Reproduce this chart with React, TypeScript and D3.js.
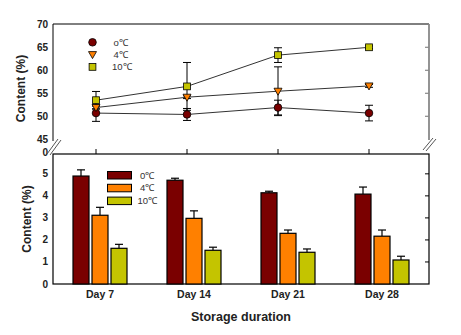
import React from "react";
import * as d3 from "d3";

const days = ["Day 7", "Day 14", "Day 21", "Day 28"];
const dayNums = [7, 14, 21, 28];
const series = ["0℃", "4℃", "10℃"];
const lineLegend = ["o℃", "4℃", "10℃"];

// upper panel (line chart)
const line0 = [50.7, 50.4, 51.9, 50.7];
const line0Err = [1.8, 1.3, 1.6, 1.7];
const line4 = [51.9, 54.15, 55.45, 56.6];
const line4Err = [0.3, 0.3, 5.3, 0.3];
const line10 = [53.5, 56.5, 63.3, 65.0];
const line10Err = [1.9, 5.2, 1.6, 0.3];
const upperTicks = [45, 50, 55, 60, 65, 70];

// lower panel (bar chart)
const bar0 = [4.9, 4.71, 4.14, 4.08];
const bar0Err = [0.28, 0.09, 0.07, 0.32];
const bar4 = [3.12, 2.98, 2.3, 2.17];
const bar4Err = [0.36, 0.34, 0.15, 0.28];
const bar10 = [1.62, 1.53, 1.44, 1.09];
const bar10Err = [0.18, 0.14, 0.15, 0.17];
const lowerTicks = [0, 1, 2, 3, 4, 5];

const colors = ["#7a0000", "#ff8000", "#c4c400"];
const FONT = "'Liberation Sans', Arial, sans-serif";

export default function App() {
  const L = 53, R = 429, T = 24, MID = 154, B = 284;
  const yU = d3.scaleLinear().domain([45, 70]).range([139.3, 24.3]);
  const xU = d3.scaleLinear().domain([7, 28]).range([96, 369]);
  const yL = d3.scaleLinear().domain([0, 5.9]).range([B, MID]);
  const x0 = d3.scaleBand<string>().domain(days).range([L, R]).padding(0);
  const x1 = d3.scaleBand<string>().domain(series).range([-27, 27]).paddingInner(3 / 19).paddingOuter(0);

  const lineSeries = [
    { v: line0, e: line0Err, shape: "circle" },
    { v: line4, e: line4Err, shape: "tri" },
    { v: line10, e: line10Err, shape: "square" },
  ];
  const barSeries = [
    { v: bar0, e: bar0Err },
    { v: bar4, e: bar4Err },
    { v: bar10, e: bar10Err },
  ];
  const lineGen = d3.line<number>().x((_, i) => xU(dayNums[i])).y((d) => yU(d));

  const marker = (shape: string, cx: number, cy: number, fill: string, key: string) => {
    if (shape === "circle")
      return <circle key={key} cx={cx} cy={cy} r={3.8} fill={fill} stroke="#000" strokeWidth={0.8} />;
    if (shape === "tri")
      return (
        <path key={key} d={`M${cx - 4},${cy - 3} L${cx + 4},${cy - 3} L${cx},${cy + 4} Z`} fill={fill} stroke="#000" strokeWidth={0.8} />
      );
    return <rect key={key} x={cx - 3.4} y={cy - 3.4} width={6.8} height={6.8} fill={fill} stroke="#000" strokeWidth={0.8} />;
  };

  return (
    <svg width={461} height={335} style={{ position: "absolute", left: 0, top: 0, background: "#fff" }} fontFamily={FONT}>
      <rect width={461} height={335} fill="#fff" />
      {/* ===== Upper panel ===== */}
      <line x1={L} x2={R} y1={T} y2={T} stroke="#000" strokeWidth={1} />
      <line x1={L} x2={L} y1={T} y2={141} stroke="#000" strokeWidth={1} />
      <line x1={R} x2={R} y1={T} y2={140} stroke="#888" strokeWidth={1.8} />
      {upperTicks.slice(1, 5).map((t) => (
        <line key={"rt" + t} x1={R - 4} x2={R} y1={yU(t)} y2={yU(t)} stroke="#888" strokeWidth={1.2} />
      ))}
      {upperTicks.map((t) => (
        <text key={"ut" + t} x={48} y={yU(t)} dy="0.35em" textAnchor="end" fontSize={10} fontWeight="bold" fill="#222">
          {t}
        </text>
      ))}
      <text x={48} y={MID} dy="0.2em" textAnchor="end" fontSize={10} fontWeight="bold" fill="#222">0</text>
      {/* break marks */}
      <line x1={47} y1={154} x2={58} y2={139} stroke="#555" strokeWidth={1} />
      <line x1={50} y1={155} x2={61} y2={140} stroke="#555" strokeWidth={1} />
      <line x1={423} y1={150} x2={433} y2={138} stroke="#555" strokeWidth={1} />
      <line x1={426} y1={151} x2={436} y2={139} stroke="#555" strokeWidth={1} />
      {/* upper x ticks */}
      {dayNums.map((d) => (
        <line key={"xt" + d} x1={xU(d)} x2={xU(d)} y1={MID - 5} y2={MID} stroke="#000" strokeWidth={1} />
      ))}
      {/* lines */}
      {lineSeries.map((s, si) => (
        <path key={"ln" + si} d={lineGen(s.v) || ""} fill="none" stroke="#333" strokeWidth={1} />
      ))}
      {/* error bars */}
      {lineSeries.map((s, si) =>
        s.v.map((v, i) => {
          const cx = xU(dayNums[i]);
          const y1 = yU(v - s.e[i]);
          const y2 = yU(v + s.e[i]);
          return (
            <g key={`eb${si}-${i}`} stroke="#000" strokeWidth={1}>
              <line x1={cx} x2={cx} y1={y1} y2={y2} />
              <line x1={cx - 4} x2={cx + 4} y1={y1} y2={y1} />
              <line x1={cx - 4} x2={cx + 4} y1={y2} y2={y2} />
            </g>
          );
        })
      )}
      {lineSeries.map((s, si) => s.v.map((v, i) => marker(s.shape, xU(dayNums[i]), yU(v), colors[si], `m${si}-${i}`)))}
      {/* upper legend */}
      {lineSeries.map((s, si) => (
        <g key={"ul" + si}>
          {marker(s.shape, 92.5, 42.3 + si * 12.3, colors[si], "lm" + si)}
          <text x={si === 2 ? 112 : 113.5} y={42.3 + si * 12.3} dy="0.35em" fontSize={9.5} fill="#333">
            {lineLegend[si]}
          </text>
        </g>
      ))}
      <text transform={`translate(25,${(T + 153) / 2}) rotate(-90)`} textAnchor="middle" fontSize={12} fontWeight="bold" fill="#222">
        Content (%)
      </text>

      {/* ===== Lower panel ===== */}
      <rect x={L} y={MID} width={R - L} height={B - MID} fill="none" stroke="#000" strokeWidth={1.2} />
      {lowerTicks.slice(1).map((t) => (
        <line key={"lrt" + t} x1={R - 4} x2={R} y1={yL(t)} y2={yL(t)} stroke="#000" strokeWidth={1} />
      ))}
      {lowerTicks.map((t) => (
        <text key={"lt" + t} x={48} y={yL(t)} dy="0.35em" textAnchor="end" fontSize={10} fontWeight="bold" fill="#222">
          {t}
        </text>
      ))}
      {barSeries.map((s, si) =>
        s.v.map((v, i) => {
          const cx = (x0(days[i]) as number) + x0.bandwidth() / 2;
          const bx = cx + (x1(series[si]) as number);
          const w = x1.bandwidth();
          const ey = yL(v + s.e[i]);
          return (
            <g key={`b${si}-${i}`}>
              <line x1={bx + w / 2} x2={bx + w / 2} y1={yL(v)} y2={ey} stroke="#000" strokeWidth={1.2} />
              <line x1={bx + w / 2 - 4} x2={bx + w / 2 + 4} y1={ey} y2={ey} stroke="#000" strokeWidth={1.2} />
              <rect x={bx} y={yL(v)} width={w} height={B - yL(v)} fill={colors[si]} stroke="#000" strokeWidth={1.2} />
            </g>
          );
        })
      )}
      {series.map((s, si) => (
        <g key={"bl" + si}>
          <rect x={107.5} y={171.5 + si * 12.8} width={24} height={7.5} fill={colors[si]} stroke="#000" strokeWidth={1} />
          <text x={si === 2 ? 137.5 : 140} y={175.3 + si * 12.8} dy="0.35em" fontSize={9.5} fill="#333">
            {s}
          </text>
        </g>
      ))}
      {days.map((d) => (
        <text key={"dl" + d} x={(x0(d) as number) + x0.bandwidth() / 2} y={298} textAnchor="middle" fontSize={10.5} fontWeight="bold" fill="#222">
          {d}
        </text>
      ))}
      <text transform={`translate(31,${(MID + B) / 2}) rotate(-90)`} textAnchor="middle" fontSize={12} fontWeight="bold" fill="#222">
        Content (%)
      </text>
      <text x={241} y={321} textAnchor="middle" fontSize={12.5} fontWeight="bold" fill="#222">
        Storage duration
      </text>
    </svg>
  );
}
